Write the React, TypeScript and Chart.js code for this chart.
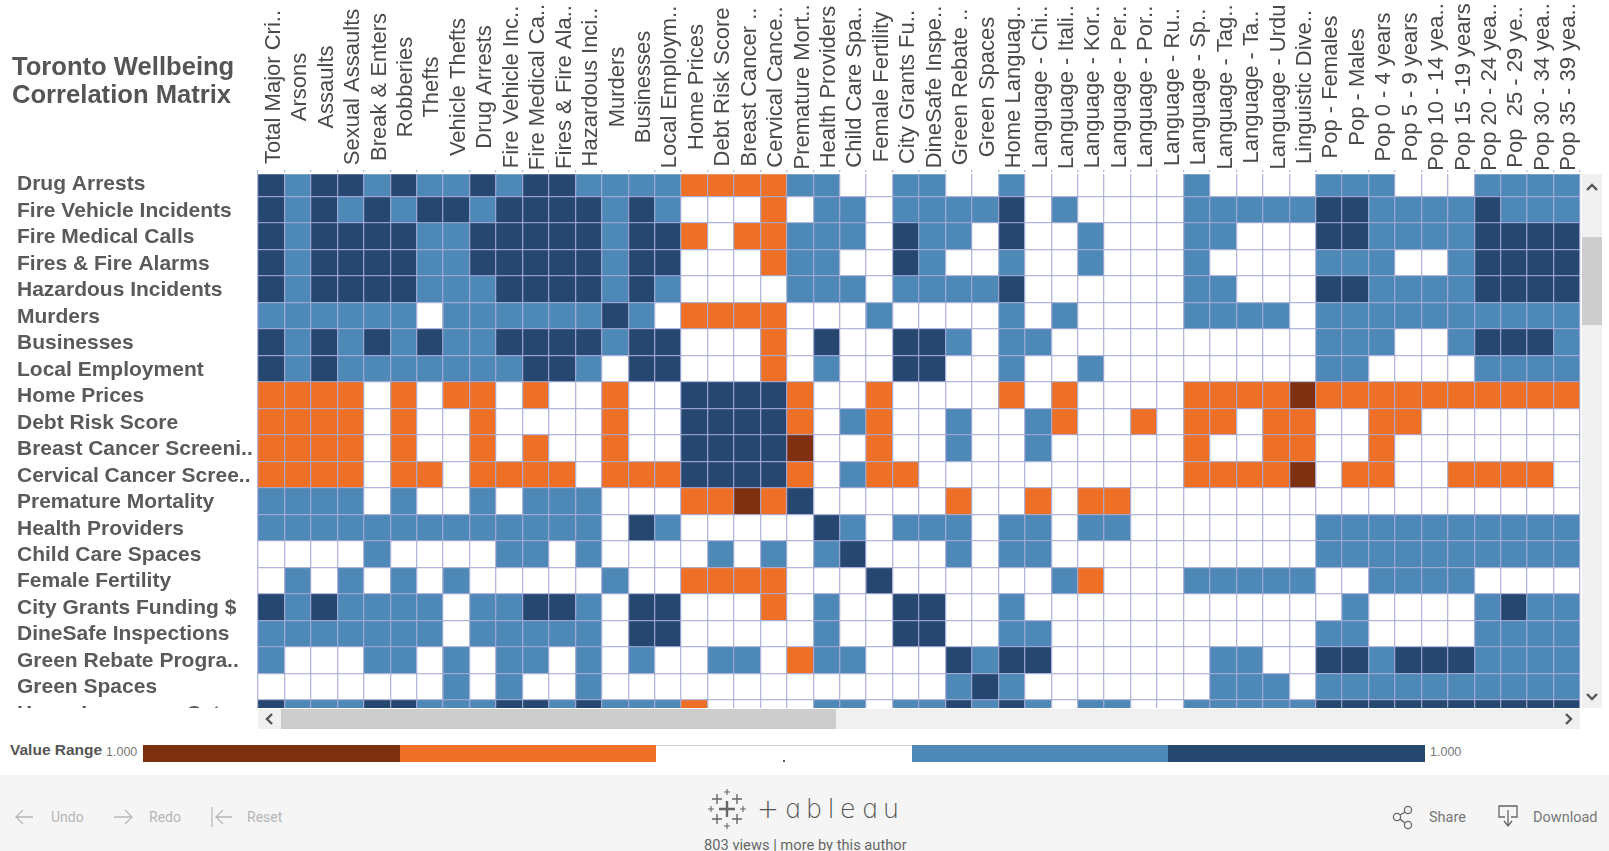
import React, { useEffect, useRef } from "react";
import { Chart, registerables } from "chart.js";

Chart.register(...registerables);

const columnLabels = [
  "Total Major Cri..", "Arsons", "Assaults", "Sexual Assaults", "Break & Enters", "Robberies", "Thefts", "Vehicle Thefts",
  "Drug Arrests", "Fire Vehicle Inc..", "Fire Medical Ca..", "Fires & Fire Ala..", "Hazardous Inci..", "Murders", "Businesses",
  "Local Employm..", "Home Prices", "Debt Risk Score", "Breast Cancer ..", "Cervical Cance..", "Premature Mort..",
  "Health Providers", "Child Care Spa..", "Female Fertility", "City Grants Fu..", "DineSafe Inspe..", "Green Rebate ..",
  "Green Spaces", "Home Languag..", "Language - Chi..", "Language - Itali..", "Language - Kor..", "Language - Per..",
  "Language - Por..", "Language - Ru..", "Language - Sp..", "Language - Tag..", "Language - Ta..", "Language - Urdu",
  "Linguistic Dive..", "Pop - Females", "Pop - Males", "Pop 0 - 4 years", "Pop 5 - 9 years", "Pop 10 - 14 yea..",
  "Pop 15 -19 years", "Pop 20 - 24 yea..", "Pop  25 - 29 ye..", "Pop 30 - 34 yea..", "Pop 35 - 39 yea..",
];

const rowLabels = [
  "Drug Arrests", "Fire Vehicle Incidents", "Fire Medical Calls", "Fires & Fire Alarms", "Hazardous Incidents", "Murders",
  "Businesses", "Local Employment", "Home Prices", "Debt Risk Score", "Breast Cancer Screeni..", "Cervical Cancer Scree..",
  "Premature Mortality", "Health Providers", "Child Care Spaces", "Female Fertility", "City Grants Funding $",
  "DineSafe Inspections", "Green Rebate Progra..", "Green Spaces", "Home Language Cat..",
];

// Correlation band per cell: -2 strong negative, -1 negative, 0 weak, 1 positive, 2 strong positive
const drugArrests = [2,1,2,2,1,2,1,1,2,1,2,2,1,1,1,1,-1,-1,-1,-1,1,1,0,0,1,1,0,0,1,0,0,0,0,0,0,1,0,0,0,0,1,1,1,0,0,0,1,1,1,1];
const fireVehicleIncidents = [2,1,2,1,2,1,2,2,1,2,2,2,2,1,2,1,0,0,0,-1,0,1,1,0,1,1,1,1,2,0,1,0,0,0,0,1,1,1,1,1,2,2,1,1,1,1,2,1,1,1];
const fireMedicalCalls = [2,1,2,2,2,2,1,1,2,2,2,2,2,1,2,2,-1,0,-1,-1,1,1,1,0,2,1,1,0,2,0,0,1,0,0,0,1,1,0,0,0,2,2,1,1,1,1,2,2,2,2];
const firesFireAlarms = [2,1,2,2,2,2,1,1,2,2,2,2,2,1,2,2,0,0,0,-1,1,1,0,0,2,1,0,0,1,0,0,1,0,0,0,1,0,0,0,0,1,1,1,0,0,1,2,2,2,2];
const hazardousIncidents = [2,1,2,2,2,2,1,1,1,2,2,2,2,1,2,1,0,0,0,0,1,1,1,0,1,1,1,1,2,0,0,0,0,0,0,1,1,0,0,0,2,2,1,1,1,1,2,2,2,2];
const murders = [1,1,1,1,1,1,0,1,1,1,1,1,1,2,1,0,-1,-1,-1,-1,0,0,0,1,0,0,0,0,1,0,1,0,0,0,0,1,1,1,1,0,1,1,1,1,1,1,1,1,1,1];
const businesses = [2,1,2,1,2,1,2,1,1,2,2,2,2,1,2,2,0,0,0,-1,0,2,0,0,2,2,1,0,1,1,0,0,0,0,0,0,0,0,0,0,1,1,1,0,0,1,2,2,2,1];
const localEmployment = [2,1,2,1,1,1,1,1,1,1,2,2,1,0,2,2,0,0,0,-1,0,1,0,0,2,2,0,0,1,0,0,1,0,0,0,0,0,0,0,0,1,1,0,0,0,0,1,1,1,1];
const homePrices = [-1,-1,-1,-1,0,-1,0,-1,-1,0,-1,0,0,-1,0,0,2,2,2,2,-1,0,0,-1,0,0,0,0,-1,0,-1,0,0,0,0,-1,-1,-1,-1,-2,-1,-1,-1,-1,-1,-1,-1,-1,-1,-1];
const debtRiskScore = [-1,-1,-1,-1,0,-1,0,0,-1,0,0,0,0,-1,0,0,2,2,2,2,-1,0,1,-1,0,0,1,0,0,1,-1,0,0,-1,0,-1,-1,0,-1,-1,0,0,-1,-1,0,0,0,0,0,0];
const breastCancerScreening = [-1,-1,-1,-1,0,-1,0,0,-1,0,-1,0,0,-1,0,0,2,2,2,2,-2,0,0,-1,0,0,1,0,0,1,0,0,0,0,0,-1,0,0,-1,-1,0,0,-1,0,0,0,0,0,0,0];
const cervicalCancerScreening = [-1,-1,-1,-1,0,-1,-1,0,-1,-1,-1,-1,0,-1,-1,-1,2,2,2,2,-1,0,1,-1,-1,0,0,0,0,0,0,0,0,0,0,-1,-1,-1,-1,-2,0,-1,-1,0,0,-1,-1,-1,-1,0];
const prematureMortality = [1,1,1,1,0,1,0,0,1,0,1,1,1,0,0,0,-1,-1,-2,-1,2,0,0,0,0,0,-1,0,0,-1,0,-1,-1,0,0,0,0,0,0,0,0,0,0,0,0,0,0,0,0,0];
const healthProviders = [1,1,1,1,1,1,1,1,1,1,1,1,1,0,2,1,0,0,0,0,0,2,1,0,1,1,1,0,1,1,0,1,1,0,0,0,0,0,0,0,1,1,1,1,1,1,1,1,1,1];
const childCareSpaces = [0,0,0,0,1,0,0,0,0,1,1,0,1,0,0,0,0,1,0,1,0,1,2,0,0,0,1,0,1,1,0,0,0,0,0,0,0,0,0,0,1,1,1,1,1,1,1,1,1,1];
const femaleFertility = [0,1,0,1,0,1,0,1,0,0,0,0,0,1,0,0,-1,-1,-1,-1,0,0,0,2,0,0,0,0,0,0,1,-1,0,0,0,1,1,1,1,1,0,0,1,1,1,1,0,0,0,0];
const cityGrantsFunding = [2,1,2,1,1,1,1,0,1,1,2,2,1,0,2,2,0,0,0,-1,0,1,0,0,2,2,0,0,1,0,0,0,0,0,0,0,0,0,0,0,0,1,0,0,0,0,1,2,1,1];
const dineSafeInspections = [1,1,1,1,1,1,1,0,1,1,1,1,1,0,2,2,0,0,0,0,0,1,0,0,2,2,0,0,1,1,0,0,0,0,0,0,0,0,0,0,1,1,0,0,0,0,1,1,1,1];
const greenRebateProgram = [1,0,0,0,1,1,0,1,0,1,1,0,1,0,1,0,0,1,1,0,-1,1,1,0,0,0,2,1,2,2,0,0,0,0,0,0,1,1,0,0,2,2,1,2,2,2,1,1,1,1];
const greenSpaces = [0,0,0,0,0,0,0,1,0,1,0,0,1,0,0,0,0,0,0,0,0,0,0,0,0,0,1,2,1,0,0,0,0,0,0,0,1,1,1,0,1,1,1,1,1,1,1,1,1,1];
const homeLanguageCategory = [2,1,1,1,2,2,1,1,1,2,2,1,2,1,1,1,-1,0,0,0,0,1,1,0,1,1,2,1,2,1,0,1,1,0,0,1,1,1,1,1,2,2,2,2,2,2,2,2,2,2];

const matrixRows = [
  drugArrests, fireVehicleIncidents, fireMedicalCalls, firesFireAlarms, hazardousIncidents, murders, businesses,
  localEmployment, homePrices, debtRiskScore, breastCancerScreening, cervicalCancerScreening, prematureMortality,
  healthProviders, childCareSpaces, femaleFertility, cityGrantsFunding, dineSafeInspections, greenRebateProgram,
  greenSpaces, homeLanguageCategory,
];

const bands = [-2, -1, 0, 1, 2];
const bandColors = ["#7e3011", "#ed7026", "#ffffff", "#4d88b7", "#26476f"];
const FONT = '"Liberation Sans", Arial, sans-serif';
const ROBOTO = 'Roboto, "Liberation Sans", sans-serif';
const GRID = "rgba(165,170,215,0.85)";

// Moves the rotated column labels to the centre of the header, as the reference has them.
const placeAxisLabels = {
  id: "placeAxisLabels",
  beforeDraw(chart: any) {
    const x = chart.scales.x;
    x.getLabelItems().forEach((item: any, i: number) => {
      item.textOffset = 0;
      item.options.textAlign = "center";
      item.options.textBaseline = "middle";
      item.options.translation = [x.getPixelForTick(i) + 2.5, 87];
    });
    const y = chart.scales.y;
    y.getLabelItems().forEach((item: any, i: number) => {
      item.options.translation = [item.options.translation[0], y.getPixelForTick(i) + 1];
    });
  },
};

function box(left: number, top: number, width: number, height: number, background: string): React.CSSProperties {
  return { position: "absolute", left, top, width, height, background };
}

function Chevron({ x, y, dir }: { x: number; y: number; dir: "up" | "down" | "left" | "right" }) {
  const points = {
    up: "-5,3 0,-2 5,3",
    down: "-5,-3 0,2 5,-3",
    left: "3,-5 -2,0 3,5",
    right: "-3,-5 2,0 -3,5",
  }[dir];
  return (
    <svg style={{ position: "absolute", left: x - 8, top: y - 8 }} width={16} height={16} viewBox="-8 -8 16 16">
      <polyline points={points} fill="none" stroke="#555" strokeWidth={2.4} />
    </svg>
  );
}

function label(text: string, left: number, top: number, style: React.CSSProperties) {
  return (
    <div style={{ position: "absolute", left, top, whiteSpace: "pre", ...style }}>{text}</div>
  );
}

function TableauMark() {
  const plus = (x: number, y: number, r: number, w: number) => (
    <path key={`${x}-${y}`} d={`M${x - r} ${y}H${x + r}M${x} ${y - r}V${y + r}`} stroke="#666" strokeWidth={w} fill="none" />
  );
  return (
    <svg style={{ position: "absolute", left: 705, top: 787 }} width={44} height={44} viewBox="-22 -22 44 44">
      {plus(0, 0, 8, 2.4)}
      {plus(-10, -10, 5, 1.4)}
      {plus(10, -10, 5, 1.4)}
      {plus(-10, 10, 5, 1.4)}
      {plus(10, 10, 5, 1.4)}
      {plus(0, -17, 3, 1.1)}
      {plus(0, 17, 3, 1.1)}
      {plus(-16, 0, 3, 1.1)}
      {plus(16, 0, 3, 1.1)}
    </svg>
  );
}

export default function App() {
  const ref = useRef<HTMLCanvasElement | null>(null);

  useEffect(() => {
    if (!ref.current) return;
    const datasets = bands.map((band, i) => ({
      label: String(band),
      data: matrixRows.flatMap((values, r) =>
        values.flatMap((v, c) => (v === band ? [{ x: columnLabels[c], y: rowLabels[r] }] : []))
      ),
      backgroundColor: bandColors[i],
      borderWidth: 0,
      pointStyle: "rect",
      pointRadius: 18.75,
      pointHoverRadius: 18.75,
      clip: { left: 0, right: 0, top: -4.2, bottom: 0 },
    }));
    const chart = new Chart(ref.current, {
      type: "scatter",
      data: { datasets },
      plugins: [placeAxisLabels],
      options: {
        animation: false,
        responsive: false,
        events: [],
        layout: { padding: { left: 17, right: 29, top: 0, bottom: 124.6 } },
        plugins: { legend: { display: false }, tooltip: { enabled: false } },
        scales: {
          x: {
            type: "category",
            labels: columnLabels,
            position: "top",
            offset: true,
            afterFit(scale: any) {
              scale.height = 170.1;
              scale.paddingLeft = 0;
              scale.paddingRight = 0;
            },
            grid: { offset: true, z: 1, color: GRID, lineWidth: 1.3, drawTicks: false },
            border: { display: false },
            ticks: {
              autoSkip: false,
              minRotation: 90,
              maxRotation: 90,
              padding: 0,
              color: "#4a4a4a",
              font: { family: FONT, size: 22 },
            },
          },
          y: {
            type: "category",
            labels: rowLabels,
            offset: true,
            afterFit(scale: any) {
              scale.width = 241;
              scale.paddingTop = 0;
              scale.paddingBottom = 0;
            },
            grid: {
              offset: true,
              z: 1,
              color: (ctx: any) => (ctx.index === 0 ? "rgba(0,0,0,0)" : GRID),
              lineWidth: 1.3,
              drawTicks: false,
            },
            border: { display: false },
            ticks: {
              autoSkip: false,
              crossAlign: "far",
              padding: 0,
              color: "#5a5a5a",
              font: { family: FONT, size: 21, weight: "bold" },
            },
          },
        },
      },
    } as any);
    return () => chart.destroy();
  }, []);

  return (
    <div style={{ position: "fixed", left: 0, top: 0, width: 1609, height: 851, overflow: "hidden", background: "#fff" }}>
      <canvas ref={ref} width={1609} height={851} style={{ display: "block", filter: "blur(0.4px)" }} />

      {/* view clip above and below the scrolled matrix */}
      <div style={box(258, 171.5, 1324, 2.8, "#fff")} />
      <div style={box(0, 708, 1609, 67, "#fff")} />

      {/* title */}
      <div style={{ position: "absolute", left: 12, top: 53, font: `bold 25.6px/27.5px ${FONT}`, color: "#555" }}>
        Toronto Wellbeing
        <br />
        Correlation Matrix
      </div>

      {/* vertical scrollbar */}
      <div style={box(1582, 174, 20, 534, "#f0f0f0")} />
      <div style={box(1582, 237, 20, 88, "#cdcdcd")} />
      <Chevron x={1592} y={187} dir="up" />
      <Chevron x={1592} y={697} dir="down" />

      {/* horizontal scrollbar */}
      <div style={box(258, 709, 1322, 20, "#f0f0f0")} />
      <div style={box(281, 709, 555, 20, "#cdcdcd")} />
      <Chevron x={269} y={719} dir="left" />
      <Chevron x={1569} y={719} dir="right" />

      {/* value range legend */}
      {label("Value Range", 10, 741, { font: `bold 15.5px ${FONT}`, color: "#555" })}
      {label("1.000", 106, 745, { font: `12.5px ${FONT}`, color: "#777" })}
      <div style={box(143, 745, 257, 17, bandColors[0])} />
      <div style={box(400, 745, 256, 17, bandColors[1])} />
      <div style={box(656, 745, 256, 1, "#cfcfcf")} />
      <div style={box(783, 760, 1.5, 1.5, "#555")} />
      <div style={box(912, 745, 256, 17, bandColors[3])} />
      <div style={box(1168, 745, 257, 17, bandColors[4])} />
      {label("1.000", 1430, 745, { font: `12.5px ${FONT}`, color: "#777" })}

      {/* footer */}
      <div style={box(0, 775, 1609, 76, "#f5f5f5")} />
      <svg style={{ position: "absolute", left: 0, top: 775 }} width={300} height={76} fill="none" stroke="#b8b8b8" strokeWidth={1.3}>
        <path d="M16 42H33M23 35L16 42L23 49" />
        <path d="M114 42H132M125 35L132 42L125 49" />
        <path d="M212 32V52M216 42H232M223 35L216 42L223 49" />
      </svg>
      {label("Undo", 51, 809, { font: `14px ${ROBOTO}`, color: "#b5b5b5" })}
      {label("Redo", 149, 809, { font: `14px ${ROBOTO}`, color: "#b5b5b5" })}
      {label("Reset", 247, 809, { font: `14px ${ROBOTO}`, color: "#b5b5b5" })}

      <TableauMark />
      {label("+ɑbleɑu", 757, 794, { font: `300 26px "DejaVu Sans", ${ROBOTO}`, color: "#555", letterSpacing: "5.2px" })}
      {label("803 views | more by this author", 704, 836, { font: `14.7px ${ROBOTO}`, color: "#666" })}

      <svg style={{ position: "absolute", left: 1390, top: 800 }} width={130} height={34} fill="none" stroke="#666" strokeWidth={1.3}>
        <circle cx="7" cy="17" r="3.6" />
        <circle cx="18" cy="10" r="3.6" />
        <circle cx="18" cy="25" r="3.6" />
        <path d="M10 15L15 12M10 19L15 23" />
        <path d="M115 17H109V6H127V17H121M118 10V25M114 21L118 26L122 21" />
      </svg>
      {label("Share", 1429, 809, { font: `14.5px ${ROBOTO}`, color: "#777" })}
      {label("Download", 1533, 809, { font: `14.5px ${ROBOTO}`, color: "#777" })}
    </div>
  );
}
